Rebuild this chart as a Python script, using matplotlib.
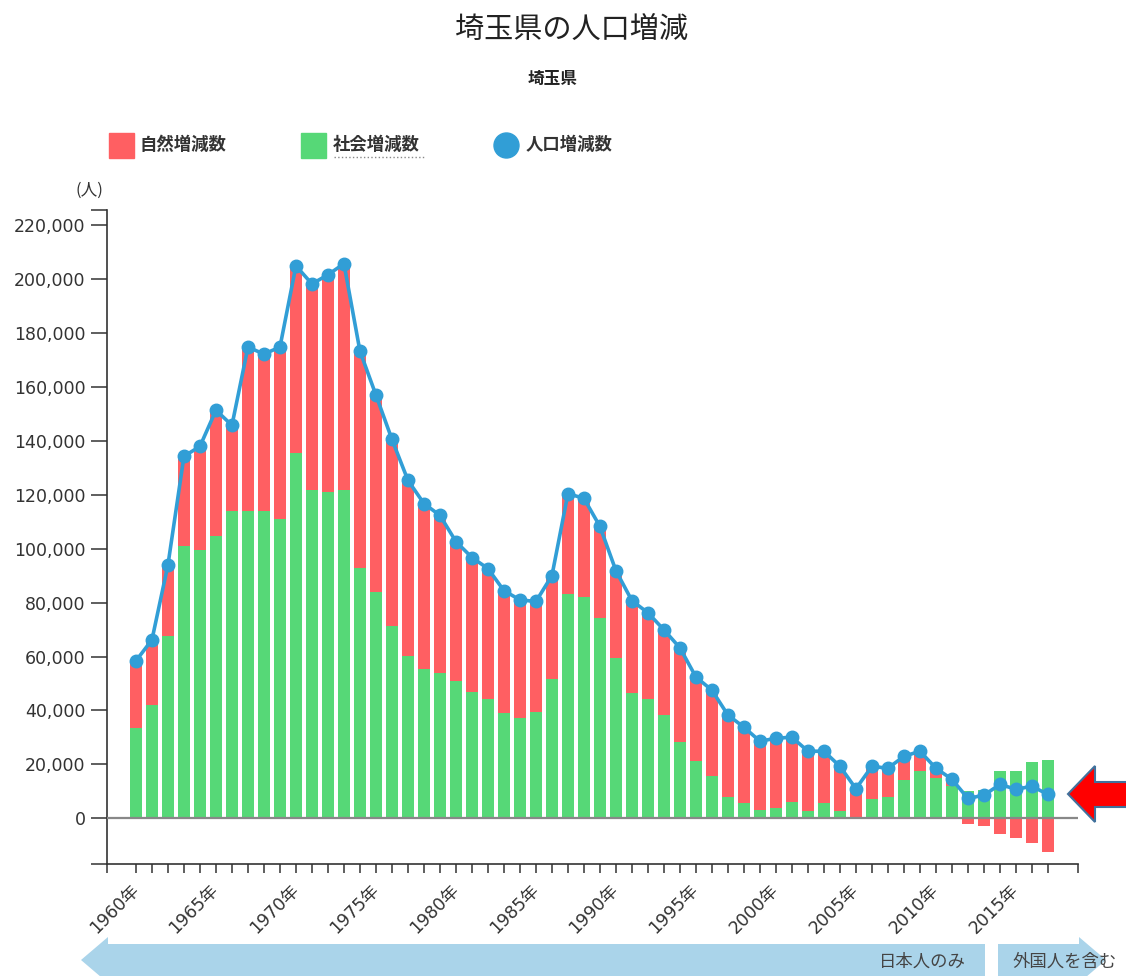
import matplotlib
matplotlib.use("Agg")
import matplotlib.pyplot as plt
from matplotlib.lines import Line2D
from matplotlib.patches import Polygon
from matplotlib.ticker import FixedLocator, FuncFormatter

plt.rcParams["font.family"] = ["DejaVu Sans", "Noto Sans CJK JP"]
CJK = ["Noto Sans CJK JP", "DejaVu Sans"]

# data (people per year)
years = list(range(1960, 2018))
social = [
    33500, 42000, 67700, 101000, 99300, 104500, 113800, 113800, 113800, 111100,
    135300, 121900, 120800, 121900, 92900, 84000, 71400, 60200, 55300, 53900,
    50900, 46800, 44200, 39000, 37200, 39400, 51700, 83300, 82100, 74300,
    59500, 46500, 44200, 38300, 28300, 21200, 15600, 7800, 5600, 3300,
    3900, 6100, 2600, 5600, 2600, 500, 7100, 7800, 14100, 17500,
    14900, 11900, 10000, 10400, 17500, 17500, 20800, 21500,
]
natural = [
    24900, 24200, 26300, 33200, 38600, 46800, 31900, 60900, 58300, 63600,
    69500, 76200, 80700, 83700, 80300, 72900, 69100, 65100, 61400, 58400,
    51700, 49900, 48400, 45400, 43800, 41000, 38300, 37100, 36500, 33900,
    32300, 34200, 32000, 31600, 34900, 31200, 31900, 30500, 28200, 25300,
    25800, 24000, 22300, 19300, 16700, 10500, 12200, 10800, 8900, 7400,
    3000, 2000, -2200, -3000, -5600, -7100, -9300, -12600,
]
total = [
    58400, 66200, 94000, 134200, 137900, 151300, 145700, 174700, 172100, 174700,
    204800, 198100, 201500, 205600, 173200, 156900, 140500, 125300, 116700, 112300,
    102600, 96700, 92600, 84400, 81000, 80400, 90000, 120400, 118600, 108200,
    91800, 80700, 76200, 69900, 63200, 52400, 47500, 38300, 33800, 28600,
    29700, 30100, 24900, 24900, 19300, 11000, 19300, 18600, 23000, 24900,
    18600, 14500, 7400, 8600, 12600, 10800, 11900, 8900,
]
y_ticks = list(range(0, 220001, 20000))
legend_labels = ["自然増減数", "社会増減数", "人口増減数"]

RED = "#ff5f62"
GREEN = "#56d877"
BLUE = "#319ed6"
AXIS = "#333333"
ARROW_BLUE = "#aad4ea"

W, H = 1126, 976


def fx(px):
    return px / W


def fy(py):
    return 1 - py / H


fig = plt.figure(figsize=(W / 100, H / 100), dpi=100)
ax = fig.add_axes([fx(107), fy(864), fx(1078) - fx(107), fy(210) - fy(864)])

ax.bar(years, social, width=0.75, color=GREEN, zorder=2)
red_bottom = [s if n >= 0 else 0 for s, n in zip(social, natural)]
ax.bar(years, natural, bottom=red_bottom, width=0.75, color=RED, zorder=2)
ax.axhline(0, color="#888888", lw=1.6, zorder=3)
ax.plot(years, total, color=BLUE, lw=2.6, marker="o", ms=9, zorder=4)

xlo, xhi = 1958.19, 2018.88
ylo, yhi = -16900, 225500
ax.set_xlim(xlo, xhi)
ax.set_ylim(ylo, yhi)

for side in ["top", "right"]:
    ax.spines[side].set_visible(False)
for side in ["left", "bottom"]:
    ax.spines[side].set_color(AXIS)
    ax.spines[side].set_linewidth(1.2)

ax.set_yticks(y_ticks)
ax.yaxis.set_major_formatter(FuncFormatter(lambda v, p: f"{int(v):,}"))
ax.yaxis.set_minor_locator(FixedLocator([ylo, yhi]))
ax.tick_params(axis="y", which="both", length=11.5, width=1.1, color=AXIS,
               pad=4, labelsize=12.5, labelcolor=AXIS)

ax.set_xticks(years)
ax.set_xticklabels([f"{y}年" if y % 5 == 0 else "" for y in years],
                   rotation=45, ha="right", va="center", rotation_mode="anchor")
for lbl in ax.get_xticklabels():
    lbl.set_x(lbl.get_position()[0])
ax.xaxis.set_minor_locator(FixedLocator([xlo, xhi]))
ax.tick_params(axis="x", which="both", length=6.5, width=1.1, color=AXIS,
               pad=10, labelsize=12.5, labelcolor=AXIS)

# titles
fig.text(fx(572), fy(30), "埼玉県の人口増減", family=CJK, fontsize=21,
         color="#222222", ha="center", va="center")
fig.text(fx(553), fy(79), "埼玉県", family=CJK, fontsize=12, weight="bold",
         color="#222222", ha="center", va="center")
fig.text(fx(89), fy(190), "(人)", family=CJK, fontsize=12,
         color=AXIS, ha="center", va="center")

# legend
legend_items = [(121, "s", RED, 140), (313, "s", GREEN, 333), (506, "o", BLUE, 526)]
for (mx, marker, color, tx), label in zip(legend_items, legend_labels):
    fig.add_artist(Line2D([fx(mx)], [fy(145)], marker=marker, color=color,
                          markersize=18, linestyle="none",
                          transform=fig.transFigure))
    fig.text(fx(tx), fy(145), label, family=CJK, fontsize=12.5, weight="bold",
             color=AXIS, ha="left", va="center")
fig.add_artist(Line2D([fx(334), fx(424)], [fy(157), fy(157)], color="#888888",
                      lw=1, linestyle=":", transform=fig.transFigure))

# bottom arrows (period notes)
left_arrow = [(81, 960), (108, 937), (108, 944), (985, 944), (985, 976),
              (108, 976), (108, 983)]
right_arrow = [(998, 944), (1079, 944), (1079, 937), (1106, 960), (1079, 983),
               (1079, 976), (998, 976)]
for pts in [left_arrow, right_arrow]:
    fig.add_artist(Polygon([(fx(x), fy(y)) for x, y in pts], closed=True,
                           facecolor=ARROW_BLUE, edgecolor="none",
                           transform=fig.transFigure))
fig.text(fx(922), fy(962), "日本人のみ", family=CJK, fontsize=12.5,
         color="#444444", ha="center", va="center")
fig.text(fx(1065), fy(962), "外国人を含む", family=CJK, fontsize=12.5,
         color="#444444", ha="center", va="center")

# red marker arrow on the right
red_arrow = [(1068, 794), (1095, 766), (1095, 782), (1130, 782), (1130, 807),
             (1095, 807), (1095, 822)]
fig.add_artist(Polygon([(fx(x), fy(y)) for x, y in red_arrow], closed=True,
                       facecolor="#ff0000", edgecolor="#41719c", lw=1.5,
                       transform=fig.transFigure))

fig.savefig("out.png", dpi=100)
